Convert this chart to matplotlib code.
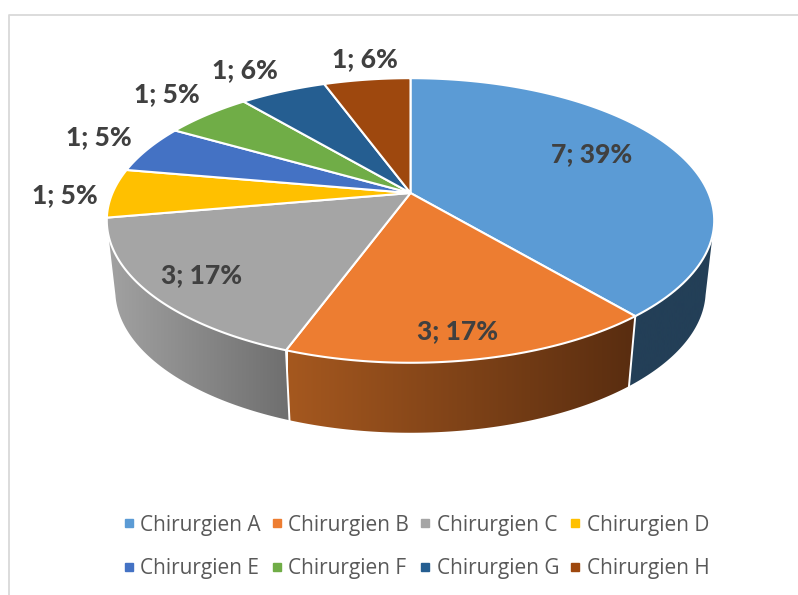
import numpy as np
import matplotlib
matplotlib.use("Agg")
import matplotlib.pyplot as plt
from matplotlib.colors import LinearSegmentedColormap
from matplotlib.lines import Line2D
from matplotlib.patches import Polygon

# Values
names = ['Chirurgien A', 'Chirurgien B', 'Chirurgien C', 'Chirurgien D',
         'Chirurgien E', 'Chirurgien F', 'Chirurgien G', 'Chirurgien H']
counts = [7, 3, 3, 1, 1, 1, 1, 1]
percents = [39, 17, 17, 5, 5, 5, 6, 6]
colors = ['#5B9BD5', '#ED7D31', '#A5A5A5', '#FFC000',
          '#4472C4', '#70AD47', '#255E91', '#9E480E']
label_pos = [(592, 154), (458, 331), (202, 275), (65, 195),
             (99, 137), (167, 94), (245, 70), (365, 59)]

# Pie geometry in pixels, y going down
CX, CY = 410.5, 193
A_R, B_R, K = 298, 137, 0.193
DEPTH = 70
BOTTOM_SCALE = 0.972


def top_xy(theta):
    # theta in degrees, clockwise from 12 o'clock, slight perspective
    t = np.radians(theta)
    w = 1 + K * np.cos(t)
    return CX + A_R * np.sin(t) / w, CY - B_R * np.cos(t) / w


def bottom_xy(theta):
    x, y = top_xy(theta)
    return CX + (x - CX) * BOTTOM_SCALE, y + DEPTH


def wall(ax, top_range, bottom_range, cmap, x0, x1, line_at):
    xt, yt = top_xy(np.linspace(*top_range, 200))
    xb, yb = bottom_xy(np.linspace(*bottom_range, 200))
    pts = np.r_[np.c_[xt, yt], np.c_[xb, yb][::-1]]
    poly = Polygon(pts, closed=True, facecolor='none', edgecolor='none')
    ax.add_patch(poly)
    im = ax.imshow(np.linspace(0, 1, 256)[None, :], cmap=cmap, aspect='auto',
                   extent=(x0, x1, 595, 0), zorder=1)
    im.set_clip_path(poly)
    # white seams between the walls
    for t in line_at:
        x0t, y0t = top_xy(t)
        x0b, y0b = bottom_xy(t)
        ax.plot([x0t, x0b], [y0t, y0b], color='white', lw=1.4, zorder=2)


fig = plt.figure(figsize=(7.98, 5.95), dpi=100)
ax = fig.add_axes([0, 0, 1, 1])

# Chart frame
ax.plot([9, 9, 798], [595, 15, 15], color='#D9D9D9', lw=1.3, zorder=0)

edges = np.cumsum([0] + counts) / sum(counts) * 360

# Side walls, the outer ends start where the silhouette leaves the top face
wall(ax, (edges[2], 253), (edges[2], 257),
     LinearSegmentedColormap.from_list('c', ['#A2A2A2', '#6E6E6E']), 107, 292, [edges[2]])
wall(ax, (edges[1], edges[2]), (edges[1], edges[2]),
     LinearSegmentedColormap.from_list('b', ['#A5581F', '#592D10']), 288, 635, [])
wall(ax, (107, edges[1]), (103, edges[1]),
     LinearSegmentedColormap.from_list('a', ['#233F57', '#233F57']), 628, 715, [edges[1]])

# Top face
for i, color in enumerate(colors):
    th = np.linspace(edges[i], edges[i + 1], 100)
    x, y = top_xy(th)
    pts = np.r_[[[CX, CY]], np.c_[x, y]]
    ax.add_patch(Polygon(pts, closed=True, facecolor=color, edgecolor='white',
                         lw=1.5, joinstyle='round', zorder=3))

# Data labels
for n, p, (x, y) in zip(counts, percents, label_pos):
    ax.text(x, y, f'{n}; {p}%', ha='center', va='center', fontsize=19,
            fontweight='black', family='Lato', color='#404040', zorder=4)

# Legend, filled row by row
handles = [Line2D([], [], ls='none', marker='s', ms=5.2, color=c) for c in colors]
order = [0, 4, 1, 5, 2, 6, 3, 7]
ax.legend([handles[i] for i in order], [names[i] for i in order], ncol=4,
          loc='center', bbox_to_anchor=(416.5, 547), bbox_transform=ax.transData,
          frameon=False, prop={'family': 'Open Sans', 'size': 15}, labelcolor='#595959',
          handlelength=0.5, handletextpad=0.3, columnspacing=0.52, labelspacing=1.1,
          borderpad=0)

ax.set_xlim(0, 798)
ax.set_ylim(595, 0)
ax.axis('off')

fig.savefig('out.png', dpi=100)
